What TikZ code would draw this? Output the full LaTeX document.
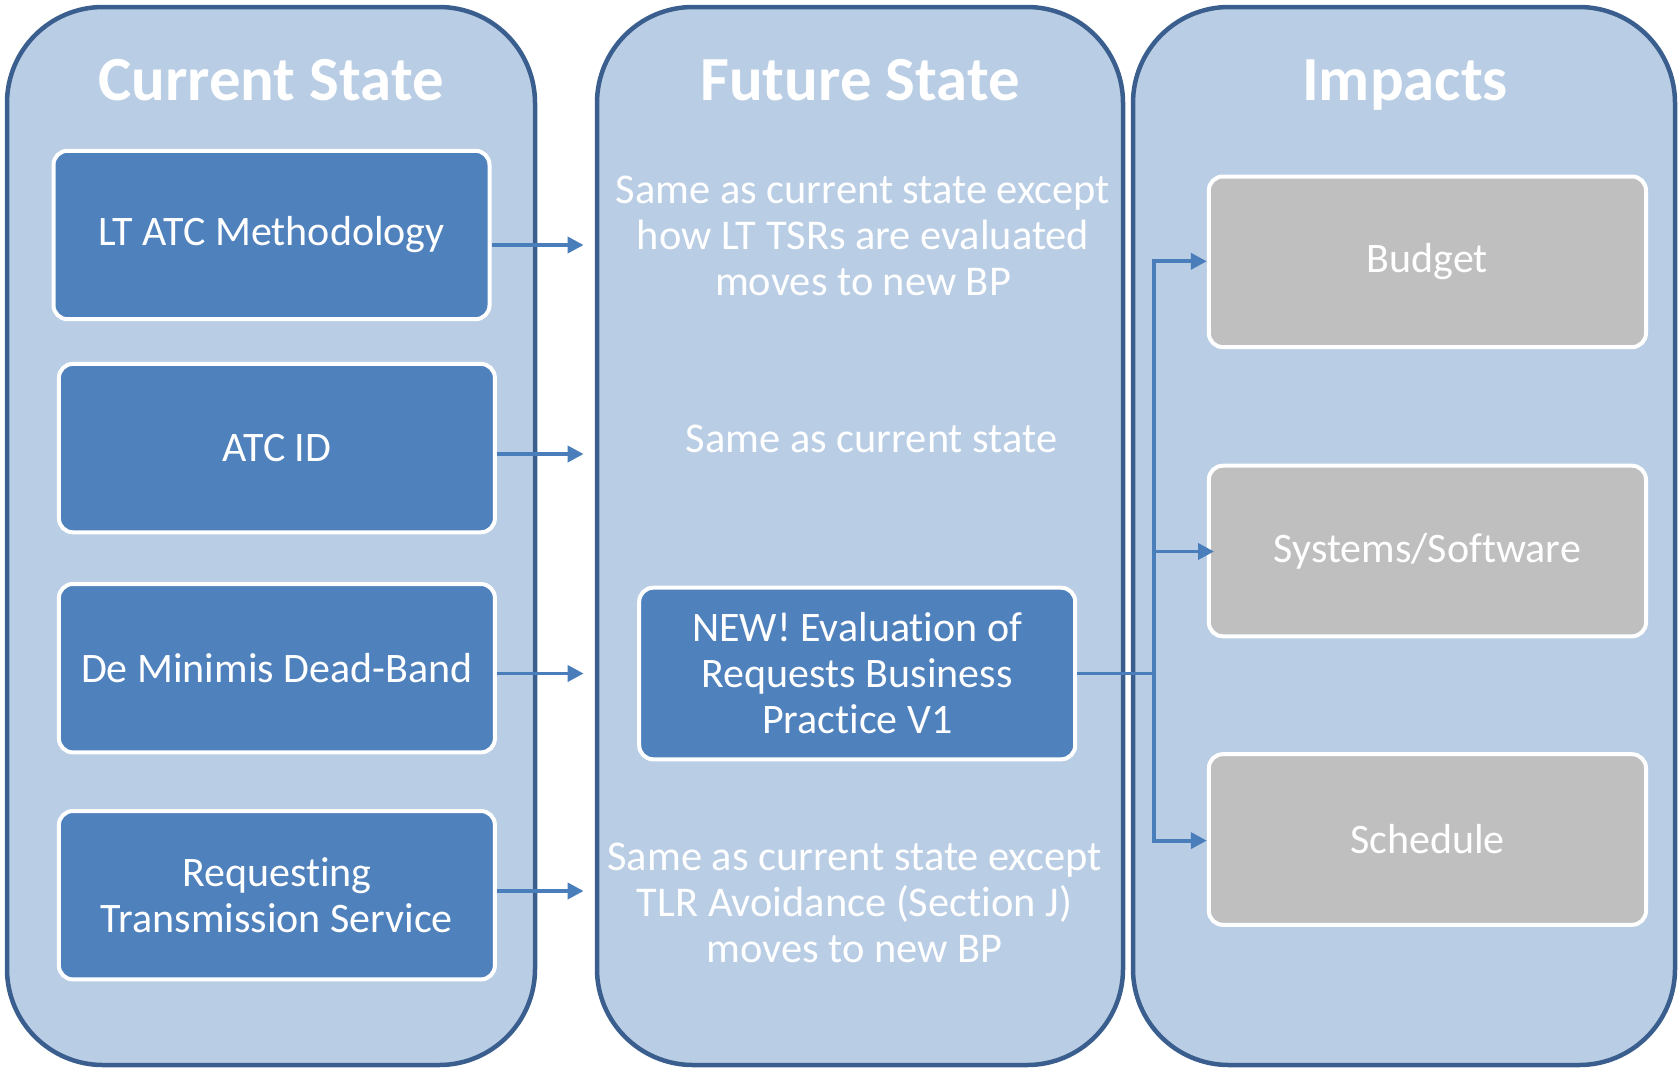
\documentclass[tikz,border=0pt]{standalone}
\usepackage{fontspec}
\setmainfont{Carlito}[Ligatures=NoCommon]
\usetikzlibrary{arrows.meta}
\definecolor{panelfill}{HTML}{B9CDE5}
\definecolor{paneldraw}{HTML}{3A5F8E}
\definecolor{boxblue}{HTML}{4F81BD}
\definecolor{boxgray}{HTML}{BFBFBF}
\definecolor{arrblue}{HTML}{4A7EBB}
\tikzset{
  panel/.style={draw=paneldraw, fill=panelfill, line width=2.25pt, rounded corners=48pt, minimum height=529pt, inner sep=0pt},
  title/.style={text=white, font=\fontsize{31.4}{36}\selectfont\bfseries, anchor=base},
  bluebox/.style={draw=white, fill=boxblue, line width=2pt, rounded corners=7pt, minimum width=218pt, minimum height=84.2pt, text=white, align=center, font=\fontsize{21}{23}\selectfont, inner sep=0pt},
  graybox/.style={bluebox, fill=boxgray, minimum width=218.6pt, minimum height=85.3pt},
  note/.style={text=white, align=center, font=\fontsize{21.2}{23}\selectfont, inner sep=0pt},
  arr/.style={draw=arrblue, line width=1.9pt, -{Triangle[length=8pt,width=8pt]}},
  link/.style={draw=arrblue, line width=1.9pt}
}
\begin{document}
\begin{tikzpicture}[x=0.5pt,y=-0.5pt]
\useasboundingbox (0,0) rectangle (1679,1071);
% panels
\node[panel, minimum width=264pt] (p1) at (271,536) {};
\node[panel, minimum width=263pt] (p2) at (860,536) {};
\node[panel, minimum width=271pt] (p3) at (1404,536) {};
% titles
\node[title] (t1) at (271,100) {Current State};
\node[title] (t2) at (860,100) {Future State};
\node[title] (t3) at (1405,100) {Impacts};
% current state boxes
\node[bluebox] (b1) at (271.5,235) {\raisebox{-2pt}{LT ATC Methodology}};
\node[bluebox] (b2) at (276.9,448.1) {ATC ID};
\node[bluebox] (b3) at (276.9,668.2) {De Minimis Dead-Band};
\node[bluebox] (b4) at (276.9,895.2) {Requesting\\Transmission Service};
% future state
\node[note] (f1) at (863,236) {Same as current state except\\how LT TSRs are evaluated\\moves to new BP};
\node[note] (f2) at (871.6,439) {Same as current state};
\node[bluebox, minimum height=85.8pt] (f3) at (857.2,673.5) {NEW! Evaluation of\\Requests Business\\Practice V1};
\node[note] (f4) at (854.5,903) {Same as current state except\\TLR Avoidance (Section J)\\moves to new BP};
% impacts
\node[graybox] (g1) at (1427.4,261.8) {Budget};
\node[graybox] (g2) at (1427.4,551) {Systems/Software};
\node[graybox] (g3) at (1427.4,839.5) {Schedule};
% arrow tips
\coordinate (a1) at (583.6,245);
\coordinate (a2) at (583.6,454);
\coordinate (a3) at (583.6,673.5);
\coordinate (a4) at (583.6,891);
\draw[arr] (b1.east |- a1) -- (a1);
\draw[arr] (b2.east |- a2) -- (a2);
\draw[arr] (b3.east |- a3) -- (a3);
\draw[arr] (b4.east |- a4) -- (a4);
% fan-out
\coordinate (j) at (1154.3,673.5);
\coordinate (jt) at (1154.3,261.3);
\coordinate (jm) at (1154.3,551.5);
\coordinate (jb) at (1154.3,840.6);
\coordinate (s2) at (1214,551.5);
\draw[link] (f3.east) -- (j);
\draw[arr] (j) -- (jt) -- (g1.west |- jt);
\draw[arr] (jm) -- (s2);
\draw[arr] (j) -- (jb) -- (g3.west |- jb);
\end{tikzpicture}
\end{document}
